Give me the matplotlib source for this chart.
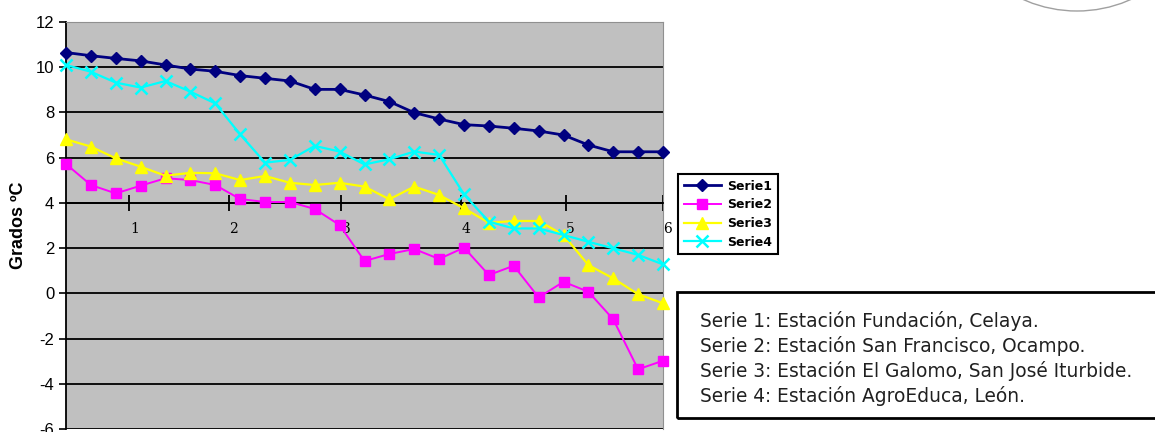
import matplotlib
matplotlib.use("Agg")
import matplotlib.pyplot as plt
import matplotlib.patches as mpatches
import matplotlib.transforms as mtrans
import numpy as np

plt.rcParams["axes.unicode_minus"] = False

# values (25 points per series)
serie1 = [10.65, 10.51, 10.39, 10.28, 10.10, 9.92, 9.82, 9.63, 9.51, 9.39, 9.02, 9.02, 8.77,
          8.48, 7.99, 7.71, 7.46, 7.40, 7.30, 7.18, 7.00, 6.56, 6.26, 6.26, 6.26]
serie2 = [5.72, 4.79, 4.42, 4.76, 5.09, 5.01, 4.79, 4.17, 4.04, 4.04, 3.73, 3.02, 1.43,
          1.74, 1.96, 1.52, 2.02, 0.81, 1.22, -0.18, 0.51, 0.07, -1.15, -3.36, -2.98]
serie3 = [6.81, 6.49, 5.97, 5.60, 5.20, 5.33, 5.31, 5.01, 5.19, 4.89, 4.79, 4.89, 4.72,
          4.16, 4.72, 4.35, 3.76, 3.12, 3.20, 3.20, 2.58, 1.25, 0.66, -0.04, -0.44]
serie4 = [10.10, 9.80, 9.32, 9.10, 9.39, 8.92, 8.40, 7.03, 5.78, 5.90, 6.52, 6.27, 5.70,
          5.93, 6.27, 6.12, 4.38, 3.17, 2.87, 2.87, 2.58, 2.28, 1.99, 1.70, 1.28]
names = ["Serie1", "Serie2", "Serie3", "Serie4"]
x_labels = ["1", "2", "3", "4", "5", "6"]
notes = ["Serie 1: Estación Fundación, Celaya.",
         "Serie 2: Estación San Francisco, Ocampo.",
         "Serie 3: Estación El Galomo, San José Iturbide.",
         "Serie 4: Estación AgroEduca, León."]

W, H = 1155, 432
fig = plt.figure(figsize=(W / 100, H / 100), dpi=100)
ax = fig.add_axes([66 / W, 3 / H, (663 - 66) / W, (429 - 22) / H])
ax.set_facecolor("#C0C0C0")

x = np.arange(len(serie1))
styles = [
    dict(color="#000080", marker="D", markersize=6, lw=2.0),
    dict(color="#FF00FF", marker="s", markersize=7, lw=1.4),
    dict(color="#FFFF00", marker="^", markersize=8, lw=1.6),
    dict(color="#00FFFF", marker="x", markersize=8, mew=1.8, lw=1.6),
]
for ys, name, st in zip([serie1, serie2, serie3, serie4], names, styles):
    ax.plot(x, ys, label=name, clip_on=False, zorder=3, **st)

ax.set_xlim(0, 24)
ax.set_ylim(-6, 12)
ax.set_yticks(np.arange(-6, 13, 2))
for yv in range(-6, 12, 2):
    ax.axhline(yv, color="black", lw=1.3, zorder=1)

# odd category axis crossing at y = 4
ax.spines["bottom"].set_position(("data", 4))
ax.spines["bottom"].set_linewidth(1.3)
ax.spines["left"].set_linewidth(1.3)
for s in ["top", "right"]:
    ax.spines[s].set_color("#909090")
ax.set_xticks([2.55, 6.54, 11.07, 15.86, 20.09, 24.0])
ax.set_xticklabels(x_labels, family="DejaVu Serif", fontsize=10)
ax.tick_params(axis="x", direction="inout", length=12, width=1.3, pad=8)
off = mtrans.ScaledTranslation(5 / 100, 0, fig.dpi_scale_trans)
for lab in ax.get_xticklabels():
    lab.set_transform(lab.get_transform() + off)

ax.tick_params(axis="y", direction="out", length=5, width=1.2, labelsize=12)
for lab in ax.get_yticklabels():
    lab.set_family("Liberation Sans")
ax.set_ylabel("Grados ºC", fontsize=13, fontweight="bold", family="Liberation Sans",
              labelpad=6)

leg = fig.legend(loc="upper left", bbox_to_anchor=(678 / W, (H - 174) / H),
                 bbox_transform=fig.transFigure, borderaxespad=0, fancybox=False,
                 handlelength=3.0, handletextpad=0.5, borderpad=0.45, labelspacing=0.45,
                 prop=dict(weight="bold", size=9))
leg.get_frame().set_edgecolor("black")
leg.get_frame().set_linewidth(1.5)
leg.get_frame().set_alpha(1)

# note box
box = mpatches.Rectangle((677 / W, (H - 418) / H), (1170 - 677) / W, (418 - 292) / H,
                         transform=fig.transFigure, fill=False, edgecolor="black", lw=2)
fig.add_artist(box)
fig.text(700 / W, (H - 311) / H, "\n".join(notes), fontsize=13.4, va="top", ha="left",
         family="DejaVu Sans", linespacing=1.32, color="#202020")

# part of a round logo at the top right
logo = mpatches.Ellipse((1077 / W, (H + 121) / H), 264 / W, 264 / H,
                        transform=fig.transFigure, fill=False, edgecolor="#a0a0a0", lw=1)
fig.add_artist(logo)

fig.savefig("out.png", dpi=100)
